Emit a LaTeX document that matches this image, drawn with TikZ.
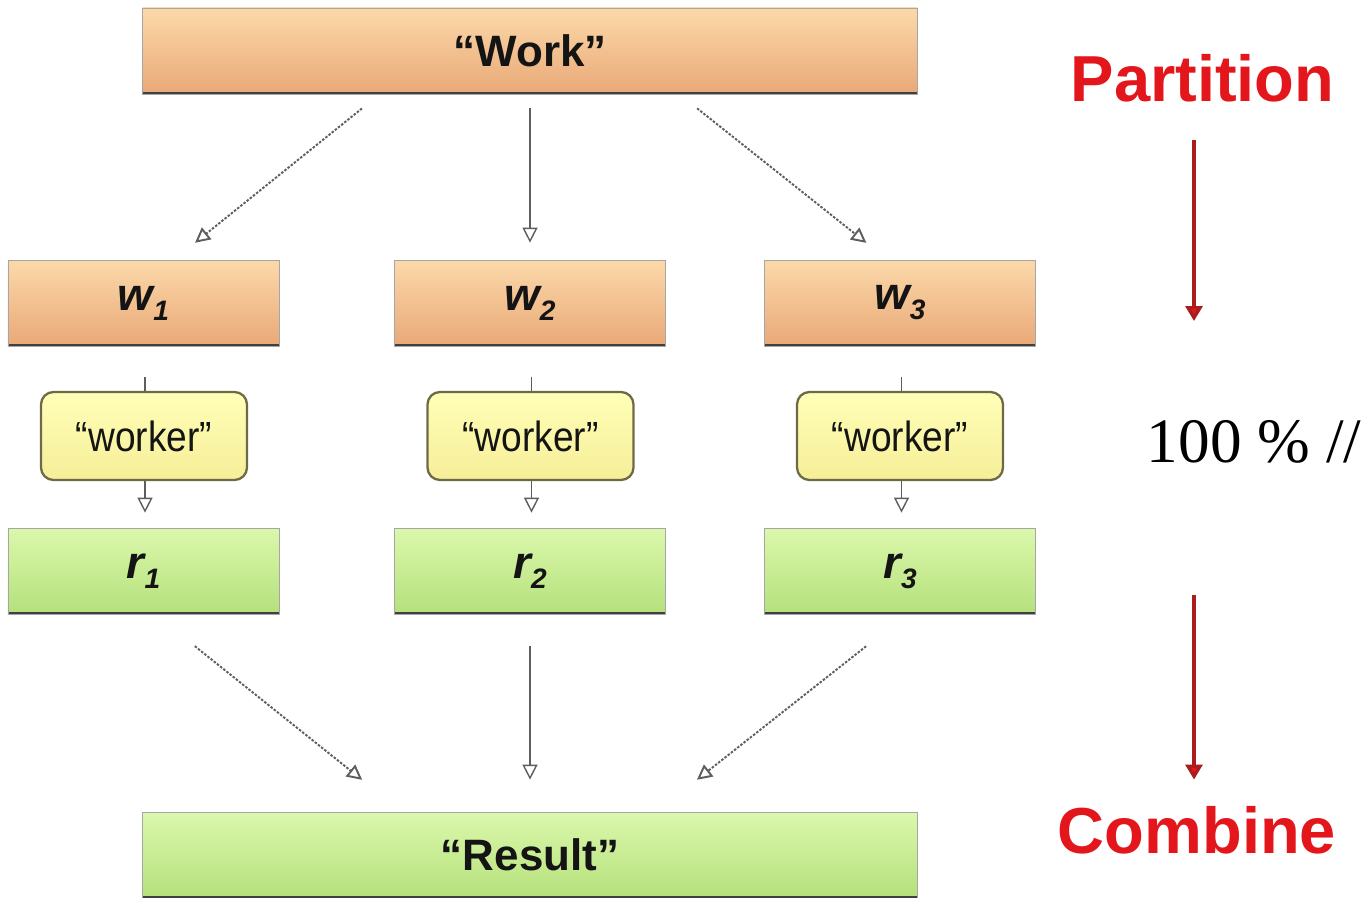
\documentclass[tikz,border=0pt]{standalone}
\usepackage{fontspec}
\setsansfont{Liberation Sans}
\newfontfamily\serifcien{Liberation Serif}
\usetikzlibrary{arrows.meta, positioning, calc}
\definecolor{naranjaa}{HTML}{FCD9AA}
\definecolor{naranjab}{HTML}{E9A877}
\definecolor{verdea}{HTML}{DBF8AC}
\definecolor{verdeb}{HTML}{B5E07B}
\definecolor{amarilloa}{HTML}{FFFFB8}
\definecolor{amarillob}{HTML}{F6EE98}
\definecolor{bordeam}{HTML}{6E6A48}
\definecolor{grisfl}{HTML}{5E5E5E}
\definecolor{rojo}{HTML}{E3161C}
\definecolor{rojoosc}{HTML}{A81E1E}
\definecolor{tinta}{HTML}{141414}
\newcommand{\subw}[1]{\raisebox{-0.22em}{\fontsize{16}{16}\selectfont #1}}
\tikzset{
  base/.style={path picture={\draw[black!75, line width=2pt] (path picture bounding box.south west) -- (path picture bounding box.south east);}},
  cajaw/.style={rectangle, minimum width=5.42cm, minimum height=1.72cm, draw=black!35, line width=0.4pt,
                top color=naranjaa, bottom color=naranjab, text=tinta, base,
                font=\fontsize{26}{30}\selectfont\sffamily\bfseries\itshape},
  cajar/.style={cajaw, top color=verdea, bottom color=verdeb},
  cajatop/.style={cajaw, minimum width=15.5cm, font=\fontsize{25}{30}\selectfont\sffamily\bfseries},
  cajares/.style={cajatop, top color=verdea, bottom color=verdeb},
  trabajador/.style={rectangle, rounded corners=0.25cm, minimum width=4.12cm, minimum height=1.76cm,
                     draw=bordeam, line width=1.3pt, top color=amarilloa, bottom color=amarillob,
                     text=tinta, font=\fontsize{24}{28}\selectfont\sffamily\addfontfeature{FakeStretch=0.88}},
  flecha/.style={draw=grisfl, line width=0.8pt, -{Triangle[open, length=0.3cm, width=0.3cm]}},
  punteada/.style={flecha, line width=1.1pt, dash pattern=on 1.4pt off 0.9pt},
  rojoflecha/.style={draw=rojoosc, line width=1.8pt, -{Triangle[length=0.3cm, width=0.34cm, fill=rojo]}},
  rotulo/.style={text=rojo, inner sep=0pt, anchor=base, font=\fontsize{37}{40}\selectfont\sffamily\bfseries}
}
\begin{document}
\begin{tikzpicture}
  \useasboundingbox (0,0) rectangle (27.34,-17.96);
  \node (work) [cajatop] at (10.6,-1.02) {“Work”};
  \node (w1) [cajaw] at (2.87,-6.06) {w\subw{1}};
  \node (w2) [cajaw] at (10.6,-6.06) {w\subw{2}};
  \node (w3) [cajaw] at (18.0,-6.06) {w\subw{3}};
  \node (r1) [cajar] at (2.87,-11.42) {r\subw{1}};
  \node (r2) [cajar] at (10.6,-11.42) {r\subw{2}};
  \node (r3) [cajar] at (18.0,-11.42) {r\subw{3}};
  \node (result) [cajares] at (10.6,-17.1) {“Result”};

  % partir el trabajo
  \draw [punteada, shorten <=0.45cm, shorten >=0.54cm] ([xshift=-3.01cm]work.south) -- ([xshift=0.61cm]w1.north);
  \draw [flecha, shorten <=0.28cm, shorten >=0.34cm] (work.south) -- (w2.north);
  \draw [punteada, shorten <=0.45cm, shorten >=0.54cm] ([xshift=2.99cm]work.south) -- ([xshift=-0.25cm]w3.north);

  \foreach \i in {1,2,3}
    \draw [flecha, shorten <=0.62cm, shorten >=0.3cm] ([xshift=0.03cm]w\i.south) -- ([xshift=0.03cm]r\i.north);

  \node (k1) [trabajador] at (2.88,-8.72) {“worker”};
  \node (k2) [trabajador] at (10.61,-8.72) {“worker”};
  \node (k3) [trabajador] at (18.0,-8.72) {“worker”};

  % juntar resultados
  \draw [punteada, shorten <=1.02cm, shorten >=1.02cm] ([xshift=0.23cm]r1.south) -- ([xshift=-2.56cm]result.north);
  \draw [flecha, shorten <=0.64cm, shorten >=0.64cm] (r2.south) -- (result.north);
  \draw [punteada, shorten <=1.03cm, shorten >=1.03cm] ([xshift=0.13cm]r3.south) -- ([xshift=2.53cm]result.north);

  \node (particion) [rotulo] at (24.05,-2.04) {Partition};
  \node (combina) [rotulo] at (23.94,-17.06) {Combine};
  \node (cien) [anchor=base, font=\serifcien\fontsize{36}{40}\selectfont] at (25.08,-9.24) {100 \% //};
  \coordinate (pfin) at (23.88,-6.42);
  \coordinate (cini) at (23.88,-11.9);
  \draw [rojoflecha, shorten <=0.74cm] ([xshift=-0.17cm]particion.south) -- (pfin);
  \draw [rojoflecha, shorten >=0.52cm] (cini) -- ([xshift=-0.06cm]combina.north);
\end{tikzpicture}
\end{document}
